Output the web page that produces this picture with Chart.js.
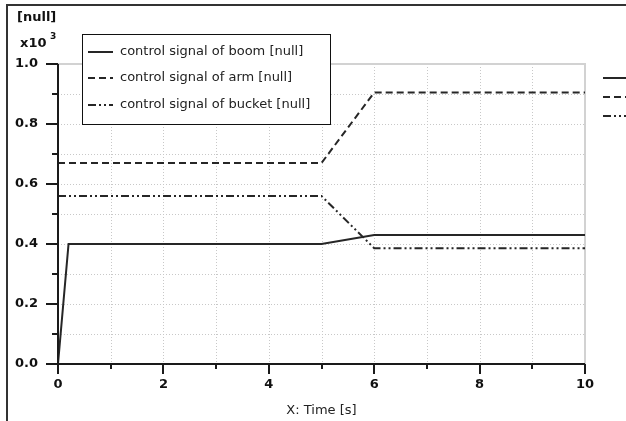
<!DOCTYPE html>
<html><head><meta charset="utf-8">
<script src="https://cdn.jsdelivr.net/npm/chart.js@4.4.1/dist/chart.umd.min.js"></script>
<style>html,body{margin:0;padding:0;background:#fff;overflow:hidden}canvas{display:block}</style>
</head><body>
<canvas id="c" width="626" height="421"></canvas>
<script>
const seriesNames = ['control signal of boom [null]', 'control signal of arm [null]', 'control signal of bucket [null]'];
const boomTime = [0, 0.2, 5, 6, 10];
const boomValues = [0, 400, 400, 430, 430];
const armTime = [0, 5, 6, 10];
const armValues = [670, 670, 905, 905];
const bucketTime = [0, 5, 6, 10];
const bucketValues = [560, 560, 386, 386];
const xTickLabels = ['0', '2', '4', '6', '8', '10'];
const yTickLabels = ['0.0', '0.2', '0.4', '0.6', '0.8', '1.0'];
const yUnitLabel = '[null]';
const yScaleLabel = 'x10';
const yScaleExp = '3';
const xAxisTitle = 'X: Time [s]';

const lineColor = '#262626';
const dashes = [[], [7, 4], [8, 3, 2, 3, 2, 3]];
const toPts = (t, v) => t.map((ti, i) => ({x: ti, y: v[i]}));

const deco = {
  id: 'deco',
  beforeDatasetsDraw(chart) {
    const {ctx, chartArea: a, scales: {x, y}} = chart;
    ctx.save();
    ctx.strokeStyle = '#c8c8c8'; ctx.lineWidth = 1; ctx.setLineDash([1, 2]);
    ctx.beginPath();
    x.ticks.forEach(t => { if (t.value > x.min && t.value < x.max) { const px = Math.round(x.getPixelForValue(t.value)) + 0.5; ctx.moveTo(px, a.top); ctx.lineTo(px, a.bottom); } });
    y.ticks.forEach(t => { if (t.value > y.min && t.value < y.max) { const py = Math.round(y.getPixelForValue(t.value)) + 0.5; ctx.moveTo(a.left, py); ctx.lineTo(a.right, py); } });
    ctx.stroke();
    ctx.setLineDash([]);
    ctx.strokeStyle = '#d2d2d2'; ctx.lineWidth = 2;
    ctx.beginPath(); ctx.moveTo(a.left, a.top); ctx.lineTo(a.right, a.top); ctx.lineTo(a.right, a.bottom); ctx.stroke();
    ctx.restore();
  },
  afterDatasetsDraw(chart) {
    const {ctx, chartArea: a, scales: {x, y}} = chart;
    ctx.save();
    // axes
    ctx.strokeStyle = '#1a1a1a'; ctx.lineWidth = 2;
    ctx.beginPath();
    ctx.moveTo(a.left, a.top); ctx.lineTo(a.left, a.bottom); ctx.lineTo(a.right, a.bottom);
    y.ticks.forEach(t => {
      const py = Math.round(y.getPixelForValue(t.value));
      const major = Math.round(t.value / 100) % 2 === 0;
      ctx.moveTo(a.left - (major ? 12 : 6), py); ctx.lineTo(a.left, py);
    });
    x.ticks.forEach(t => {
      const px = Math.round(x.getPixelForValue(t.value));
      const major = Math.round(t.value) % 2 === 0;
      ctx.moveTo(px, a.bottom); ctx.lineTo(px, a.bottom + (major ? 10 : 5));
    });
    ctx.stroke();

    // top-left labels
    ctx.fillStyle = '#111';
    ctx.textBaseline = 'middle'; ctx.textAlign = 'left';
    ctx.font = 'bold 13px "DejaVu Sans"';
    ctx.fillText(yUnitLabel, 17, 18);
    ctx.fillText(yScaleLabel, 20, 44);
    ctx.font = 'bold 9px "DejaVu Sans"';
    ctx.fillText(yScaleExp, 50, 37);

    // legend box
    ctx.fillStyle = '#fff';
    ctx.fillRect(82, 34, 248, 90);
    ctx.strokeStyle = '#111'; ctx.lineWidth = 1;
    ctx.strokeRect(82.5, 34.5, 248, 90);
    const rows = [52, 78, 105];
    const rightRows = [78, 97, 116];
    chart.data.datasets.forEach((ds, i) => {
      ctx.strokeStyle = lineColor; ctx.lineWidth = 2; ctx.setLineDash(ds.borderDash || []);
      ctx.beginPath(); ctx.moveTo(88, rows[i]); ctx.lineTo(113, rows[i]); ctx.stroke();
      ctx.beginPath(); ctx.moveTo(603, rightRows[i]); ctx.lineTo(632, rightRows[i]); ctx.stroke();
      ctx.setLineDash([]);
      ctx.fillStyle = '#222'; ctx.font = '13px "DejaVu Sans"';
      ctx.fillText(ds.label, 120, rows[i]);
    });

    // outer frame
    ctx.strokeStyle = '#333'; ctx.lineWidth = 2;
    ctx.beginPath(); ctx.moveTo(7, 421); ctx.lineTo(7, 5); ctx.lineTo(626, 5); ctx.stroke();
    ctx.restore();
  }
};

new Chart(document.getElementById('c'), {
  type: 'line',
  data: {
    datasets: [
      {label: seriesNames[0], data: toPts(boomTime, boomValues), borderDash: dashes[0]},
      {label: seriesNames[1], data: toPts(armTime, armValues), borderDash: dashes[1]},
      {label: seriesNames[2], data: toPts(bucketTime, bucketValues), borderDash: dashes[2]}
    ].map(d => Object.assign(d, {borderColor: lineColor, borderWidth: 2, pointRadius: 0, tension: 0, fill: false}))
  },
  options: {
    responsive: false, animation: false, devicePixelRatio: 1,
    layout: {padding: {top: 64, right: 41, left: 0, bottom: 0}},
    plugins: {legend: {display: false}, tooltip: {enabled: false}},
    scales: {
      x: {
        type: 'linear', min: 0, max: 10,
        grid: {display: false}, border: {display: false},
        afterFit: s => { s.height = 57; },
        ticks: {
          stepSize: 1, autoSkip: false, maxRotation: 0, padding: 5,
          color: '#111', font: {family: 'DejaVu Sans', size: 13, weight: 'bold'},
          callback: v => (Math.round(v) % 2 === 0 ? xTickLabels[Math.round(v) / 2] : '')
        },
        title: {display: true, text: xAxisTitle, color: '#222', font: {family: 'DejaVu Sans', size: 13}, padding: {top: 0, bottom: 3}}
      },
      y: {
        type: 'linear', min: 0, max: 1000,
        grid: {display: false}, border: {display: false},
        afterFit: s => { s.width = 58; },
        ticks: {
          stepSize: 100, autoSkip: false, padding: 12,
          color: '#111', font: {family: 'DejaVu Sans', size: 13, weight: 'bold'},
          callback: v => (Math.round(v / 100) % 2 === 0 ? yTickLabels[Math.round(v / 200)] : '')
        }
      }
    }
  },
  plugins: [deco]
});
</script>
</body></html>
